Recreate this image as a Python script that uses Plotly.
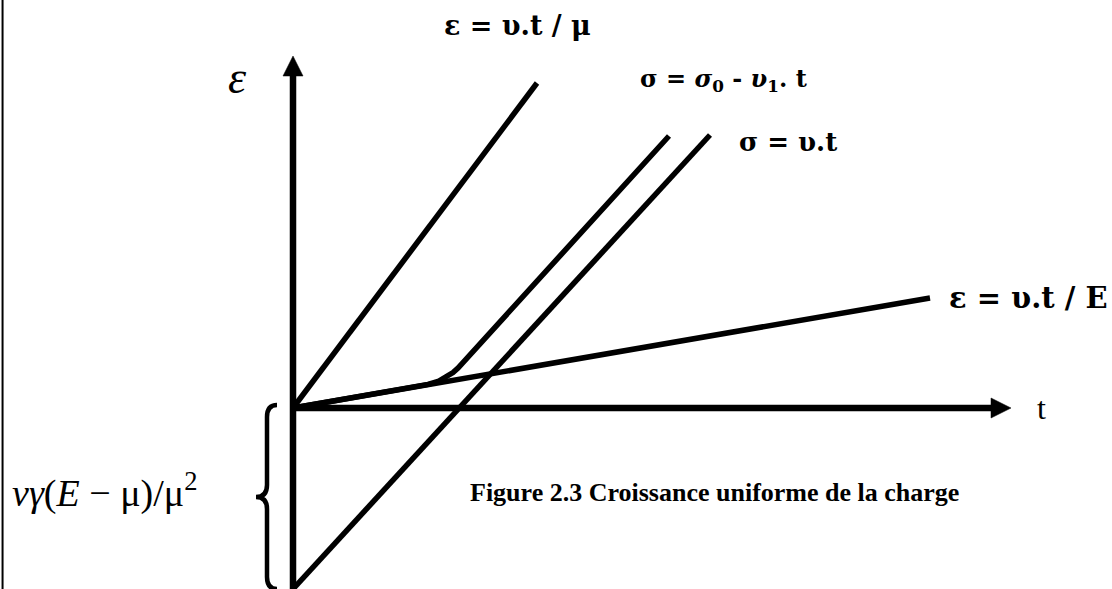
import plotly.graph_objects as go

# Diagram coordinates: origin of the (t, ε) axes at (0, 0); 1 unit = 10 px
# ε = υ.t / μ  (steep elastic line)
t_eps_mu = [0, 24.4]
eps_eps_mu = [0, 32.5]

# ε = υ.t / E  (shallow line)
t_eps_E = [0, 63.7]
eps_eps_E = [0, 11.0]

# σ = υ.t  (line starting below the origin at the offset vγ(E − μ)/μ²)
t_sig = [0, 41.7]
eps_sig = [-18.1, 27.3]

# σ = σ0 - υ1.t  (follows the shallow line, then bends into a parallel)
t_sig0 = [0, 12.5, 13.5, 14.5, 15.3, 16.0, 16.5, 37.6]
eps_sig0 = [0, 2.16, 2.36, 2.65, 3.05, 3.55, 4.0, 27.2]

# Axis extents (arrow tips)
t_axis_tip = 71.8
eps_axis_tip = 35.2

# Axis range in diagram units
x_range = [-29.3, 81.9]
y_range = [-18.1, 40.8]

LINE_W = 5.5
AXIS_W = 6.5
HEAD_LEN = 2.0
HEAD_HALF = 1.0
INK = "#000000"
MATH_FONT = "DejaVu Serif"
TEXT_FONT = "Liberation Serif"

fig = go.Figure()


def seg(xs, ys, width=LINE_W):
    fig.add_trace(go.Scatter(x=xs, y=ys, mode="lines",
                             line=dict(color=INK, width=width),
                             hoverinfo="skip", showlegend=False))


# Axes with filled arrowheads
axis_bottom = eps_sig[0]
seg([0, 0], [axis_bottom, eps_axis_tip - HEAD_LEN], AXIS_W)
seg([0, t_axis_tip - HEAD_LEN], [0, 0], AXIS_W)
fig.add_trace(go.Scatter(
    x=[-HEAD_HALF, HEAD_HALF, 0, -HEAD_HALF],
    y=[eps_axis_tip - HEAD_LEN, eps_axis_tip - HEAD_LEN, eps_axis_tip, eps_axis_tip - HEAD_LEN],
    mode="lines", fill="toself", fillcolor=INK, line=dict(color=INK, width=0.5),
    hoverinfo="skip", showlegend=False))
fig.add_trace(go.Scatter(
    x=[t_axis_tip - HEAD_LEN, t_axis_tip - HEAD_LEN, t_axis_tip, t_axis_tip - HEAD_LEN],
    y=[-HEAD_HALF, HEAD_HALF, 0, -HEAD_HALF],
    mode="lines", fill="toself", fillcolor=INK, line=dict(color=INK, width=0.5),
    hoverinfo="skip", showlegend=False))

# Curves
seg(t_eps_mu, eps_eps_mu)
seg(t_eps_E, eps_eps_E)
seg(t_sig, eps_sig)
seg(t_sig0, eps_sig0)

# Curly brace marking the offset between 0 and the σ = υ.t intercept
b_top, b_bot = 0.3, eps_sig[0]
b_mid = (b_top + b_bot) / 2
bx_end, bx_spine, bx_tip = -1.6, -2.6, -3.7
r = 1.2
brace_path = (
    f"M {bx_end},{b_top} Q {bx_spine},{b_top} {bx_spine},{b_top - r} "
    f"L {bx_spine},{b_mid + r} Q {bx_spine},{b_mid} {bx_tip},{b_mid} "
    f"Q {bx_spine},{b_mid} {bx_spine},{b_mid - r} "
    f"L {bx_spine},{b_bot + r} Q {bx_spine},{b_bot} {bx_end},{b_bot}"
)
shapes = [
    dict(type="path", path=brace_path, xref="x", yref="y",
         line=dict(color=INK, width=4.5)),
    # left frame rule
    dict(type="line", xref="paper", yref="paper", x0=0.0023, x1=0.0023, y0=0, y1=1,
         line=dict(color=INK, width=2)),
]

annotations = [
    dict(x=22.45, y=38.3, text="<b>ε = υ.t / μ</b>", xanchor="center",
         font=dict(family=MATH_FONT, size=27)),
    dict(x=34.5, y=32.8, text="<b>σ = <i>σ</i><sub>0</sub> - <i>υ</i><sub>1</sub>. t</b>",
         xanchor="left", font=dict(family=MATH_FONT, size=24)),
    dict(x=44.4, y=26.6, text="<b>σ = υ.t</b>", xanchor="left",
         font=dict(family=MATH_FONT, size=26)),
    dict(x=65.4, y=11.0, text="<b>ε = υ.t / E</b>", xanchor="left",
         font=dict(family=MATH_FONT, size=29)),
    dict(x=74.8, y=0.0, text="t", xanchor="center",
         font=dict(family=TEXT_FONT, size=32)),
    dict(x=-5.6, y=33.1, text="<i>ε</i>", xanchor="center",
         font=dict(family=TEXT_FONT, size=46)),
    dict(x=-28.3, y=-8.2, text="<i>v</i><i>γ</i>(<i>E</i> − μ)/μ<sup>2</sup>", xanchor="left",
         font=dict(family=TEXT_FONT, size=38)),
    dict(x=17.5, y=-8.4, text="<b>Figure 2.3 Croissance uniforme de la charge</b>",
         xanchor="left", font=dict(family=TEXT_FONT, size=26)),
]
for a in annotations:
    a.update(xref="x", yref="y", yanchor="middle", showarrow=False)
    a["font"]["color"] = INK

fig.update_layout(
    width=1112, height=589,
    margin=dict(l=0, r=0, t=0, b=0),
    paper_bgcolor="white", plot_bgcolor="white",
    xaxis=dict(range=x_range, visible=False, fixedrange=True),
    yaxis=dict(range=y_range, visible=False, fixedrange=True),
    shapes=shapes, annotations=annotations, showlegend=False,
)

fig.write_html("out.html", config={"displayModeBar": False})
